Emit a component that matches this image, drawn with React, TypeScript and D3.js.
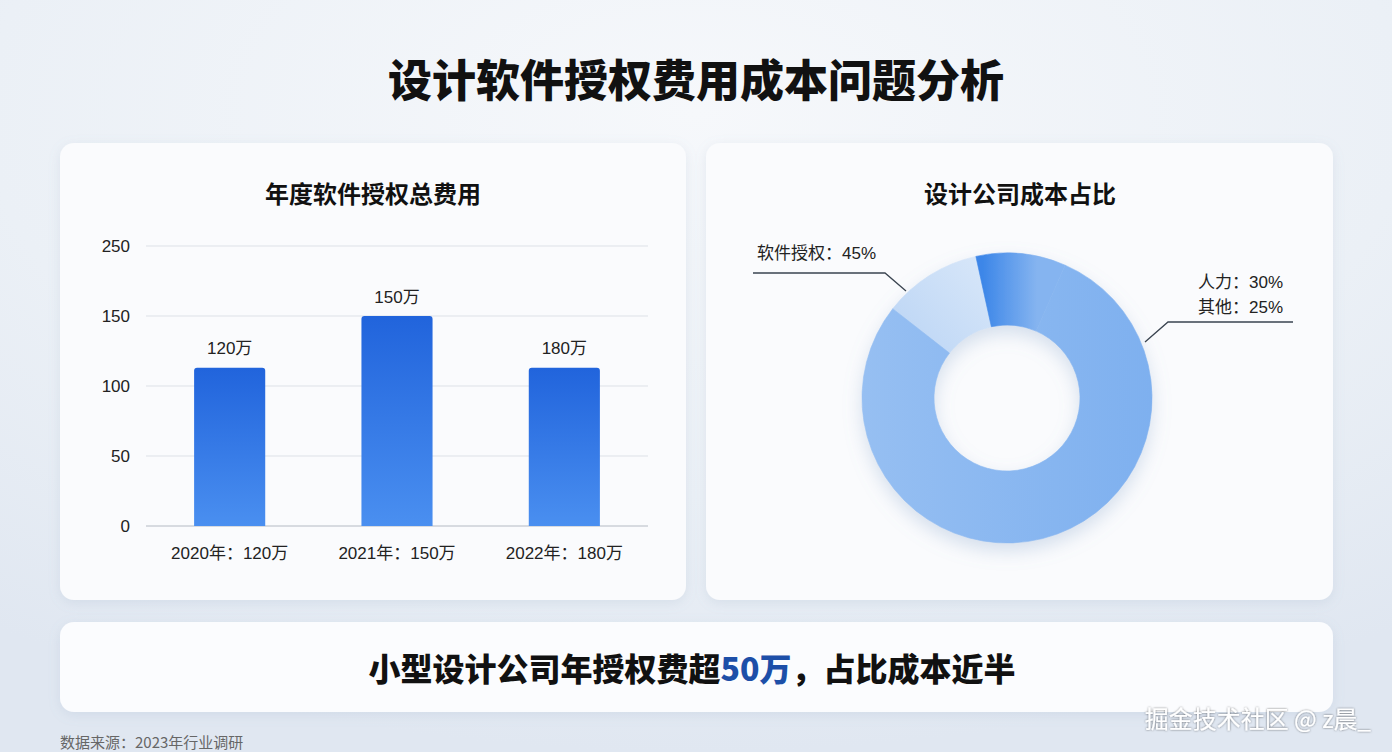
import * as d3 from 'd3';

// bar chart data (bar heights, labels as printed)
const years = ['2020年：120万', '2021年：150万', '2022年：180万'];
const barValues = [113, 150, 113];
const barLabels = ['120万', '150万', '180万'];
const tickValues = [0, 50, 100, 150, 200];
const tickLabels = ['0', '50', '100', '150', '250'];

// donut: ring segments as drawn (share of ring, clockwise from ~10 o'clock)
const ringNames = ['软件授权', '人力', '其他'];
const ringShares = [11, 10, 79];
const ringColors = ['url(#gLight)', 'url(#gAccent)', 'url(#gMain)'];
const leftLabel = '软件授权：45%';
const rightLabels = ['人力：30%', '其他：25%'];

const FONT = '"Liberation Sans", "Noto Sans CJK SC", sans-serif';
const CJK = '"Noto Sans CJK SC", "Liberation Sans", sans-serif';

export default function App() {
  const W = 1392;
  const H = 752;

  // bar chart scales
  const x = d3.scaleBand<string>()
    .domain(years)
    .range([146, 648])
    .paddingInner(0.575)
    .paddingOuter(0.2875);
  const y = d3.scaleLinear().domain([0, 200]).range([526, 246]);

  // donut
  const cx = 1007;
  const cy = 398;
  const pie = d3.pie<number>()
    .sort(null)
    .startAngle((-52 * Math.PI) / 180)
    .endAngle((308 * Math.PI) / 180);
  const arcs = pie(ringShares);
  const arc = d3.arc<d3.PieArcDatum<number>>().innerRadius(73).outerRadius(145);

  return (
    <svg
      width={W}
      height={H}
      viewBox={`0 0 ${W} ${H}`}
      style={{ position: 'absolute', left: 0, top: 0, display: 'block' }}
    >
      <defs>
        <radialGradient id="bg" cx="0.5" cy="0.15" r="0.85">
          <stop offset="0" stopColor="#f6f8fb" />
          <stop offset="0.6" stopColor="#ebf0f6" />
          <stop offset="1" stopColor="#e0e7f1" />
        </radialGradient>
        <linearGradient id="gBar" x1="0" y1="0" x2="0" y2="1">
          <stop offset="0" stopColor="#2164dc" />
          <stop offset="1" stopColor="#4a8ff0" />
        </linearGradient>
        <linearGradient id="gLight" gradientUnits="userSpaceOnUse" x1="-20" y1="-140" x2="-110" y2="-60">
          <stop offset="0" stopColor="#d8e7f9" />
          <stop offset="1" stopColor="#bdd6f5" />
        </linearGradient>
        <linearGradient id="gAccent" gradientUnits="userSpaceOnUse" x1="-25" y1="0" x2="30" y2="0">
          <stop offset="0" stopColor="#3c86e8" />
          <stop offset="1" stopColor="#85b4f0" />
        </linearGradient>
        <linearGradient id="gMain" gradientUnits="userSpaceOnUse" x1="145" y1="0" x2="-145" y2="0">
          <stop offset="0" stopColor="#7eb0ef" />
          <stop offset="1" stopColor="#96bff2" />
        </linearGradient>
        <filter id="card" x="-10%" y="-10%" width="120%" height="130%">
          <feDropShadow dx="0" dy="3" stdDeviation="6" floodColor="#8296b4" floodOpacity="0.16" />
        </filter>
        <filter id="ring" x="-30%" y="-30%" width="160%" height="170%">
          <feDropShadow dx="0" dy="8" stdDeviation="9" floodColor="#7f9cc6" floodOpacity="0.3" />
        </filter>
        <filter id="wm" x="-10%" y="-30%" width="120%" height="160%">
          <feDropShadow dx="0" dy="0" stdDeviation="1.2" floodColor="#000" floodOpacity="0.55" />
        </filter>
      </defs>

      <rect width={W} height={H} fill="url(#bg)" />

      <text
        x={696}
        y={78}
        textAnchor="middle"
        dominantBaseline="central"
        fontFamily={CJK}
        fontWeight={900}
        fontSize={44}
        fill="#111"
      >
        设计软件授权费用成本问题分析
      </text>

      {/* cards */}
      <rect x={60} y={143} width={626} height={457} rx={14} fill="#fafbfd" filter="url(#card)" />
      <rect x={706} y={143} width={627} height={457} rx={14} fill="#fafbfd" filter="url(#card)" />
      <rect x={60} y={622} width={1273} height={90} rx={14} fill="#fbfcfe" filter="url(#card)" />

      {/* bar chart */}
      <text x={373} y={192} textAnchor="middle" dominantBaseline="central" fontFamily={CJK} fontWeight={700} fontSize={24} fill="#111">
        年度软件授权总费用
      </text>
      <g>
        {tickValues.map((t, i) => (
          <g key={t}>
            <line
              x1={146}
              x2={648}
              y1={y(t)}
              y2={y(t)}
              stroke={t === 0 ? '#b4bac3' : '#dde1e7'}
              strokeWidth={1}
            />
            <text x={130} y={y(t)} textAnchor="end" dominantBaseline="central" fontFamily={FONT} fontSize={17} fill="#222">
              {tickLabels[i]}
            </text>
          </g>
        ))}
        {years.map((yr, i) => {
          const bx = x(yr)!;
          const bw = x.bandwidth();
          const top = y(barValues[i]);
          const r = 3;
          const path = `M${bx},${y(0)} V${top + r} Q${bx},${top} ${bx + r},${top} H${bx + bw - r} Q${bx + bw},${top} ${bx + bw},${top + r} V${y(0)} Z`;
          return (
            <g key={yr}>
              <path d={path} fill="url(#gBar)" />
              <text
                x={bx + bw / 2}
                y={top - 19}
                textAnchor="middle"
                dominantBaseline="central"
                fontFamily={FONT}
                fontSize={17}
                fill="#222"
              >
                {barLabels[i]}
              </text>
              <text
                x={bx + bw / 2}
                y={553}
                textAnchor="middle"
                dominantBaseline="central"
                fontFamily={FONT}
                fontSize={17}
                fill="#222"
              >
                {yr}
              </text>
            </g>
          );
        })}
      </g>

      {/* donut */}
      <text x={1020} y={192} textAnchor="middle" dominantBaseline="central" fontFamily={CJK} fontWeight={700} fontSize={24} fill="#111">
        设计公司成本占比
      </text>
      <g transform={`translate(${cx},${cy})`} filter="url(#ring)">
        {arcs.map((a, i) => (
          <path key={ringNames[i]} d={arc(a)!} fill={ringColors[i]} stroke={ringColors[i]} strokeWidth={0.6} />
        ))}
      </g>
      <polyline points="753,273 885,273 906,291" fill="none" stroke="#3a4450" strokeWidth={1.3} />
      <text x={757} y={253} dominantBaseline="central" fontFamily={FONT} fontSize={17} fill="#222">
        {leftLabel}
      </text>
      <polyline points="1293,322 1168,322 1145,342" fill="none" stroke="#3a4450" strokeWidth={1.3} />
      {rightLabels.map((t, i) => (
        <text key={t} x={1283} y={282 + i * 25} textAnchor="end" dominantBaseline="central" fontFamily={FONT} fontSize={17} fill="#222">
          {t}
        </text>
      ))}

      {/* banner */}
      <text x={692} y={667} textAnchor="middle" dominantBaseline="central" fontFamily={CJK} fontWeight={900} fontSize={32} fill="#111">
        小型设计公司年授权费超<tspan fill="#1d4fa8">50万</tspan>，占比成本近半
      </text>

      <text x={60} y={741} dominantBaseline="central" fontFamily={CJK} fontSize={15} fill="#666">
        数据来源：2023年行业调研
      </text>
      <text x={1371} y={717} textAnchor="end" dominantBaseline="central" fontFamily={CJK} fontSize={24} fill="#fff" filter="url(#wm)">
        掘金技术社区 @ z晨_
      </text>
    </svg>
  );
}
